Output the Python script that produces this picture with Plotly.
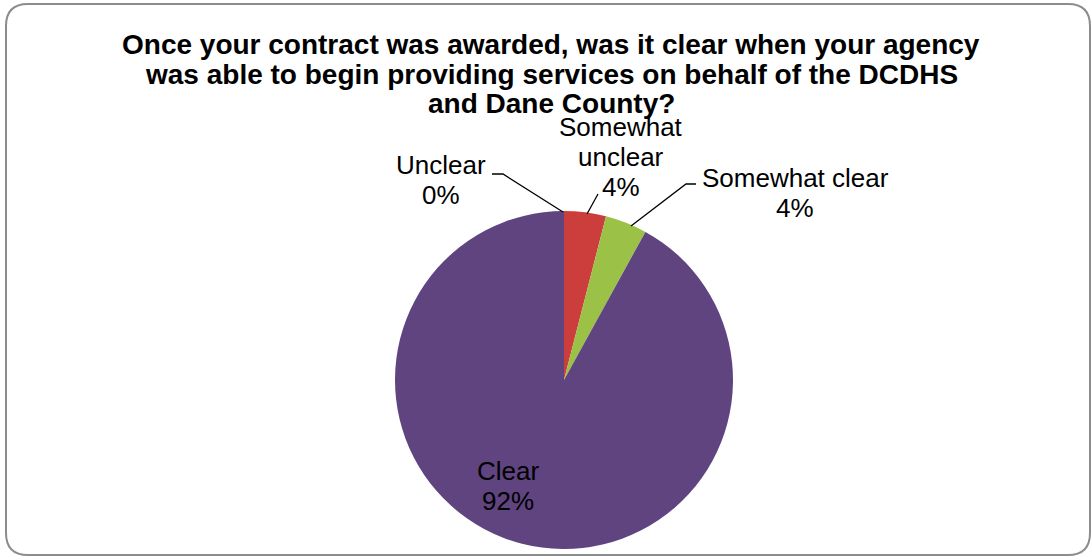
import plotly.graph_objects as go

categories = ["Unclear", "Somewhat unclear", "Somewhat clear", "Clear"]
values = [0, 1, 1, 23]
colors = ["#4F81BD", "#CC3E3B", "#9BC247", "#5F4480"]
title_lines = [
    "Once your contract was awarded, was it clear when your agency",
    "was able to begin providing services on behalf of the DCDHS",
    "and Dane County?",
]

W, H = 1092, 556

def px(x, y):
    return x / W, 1 - y / H

fig = go.Figure()
fig.add_trace(go.Pie(
    labels=categories, values=values, sort=False, direction="clockwise",
    rotation=0, textinfo="none", hoverinfo="label+percent",
    marker=dict(colors=colors, line=dict(width=0)),
    domain=dict(x=[394 / W, 734 / W], y=[1 - 549 / H, 1 - 211 / H]),
    showlegend=False,
))

FAM = "Liberation Sans, Arial, sans-serif"
font = dict(family=FAM, size=26, color="#000000")

total = sum(values)
pct = [f"{round(v / total * 100)}%" for v in values]
label_lines = {
    "Unclear": ["Unclear"],
    "Somewhat unclear": ["Somewhat", "unclear"],
    "Somewhat clear": ["Somewhat clear"],
    "Clear": ["Clear"],
}
label_pos = {  # (center x, first line center y)
    "Unclear": (441, 165),
    "Somewhat unclear": (621, 127),
    "Somewhat clear": (795, 178),
    "Clear": (508, 471),
}
LS = 30
for c, p in zip(categories, pct):
    cx, cy = label_pos[c]
    for i, t in enumerate(label_lines[c] + [p]):
        x, y = px(cx, cy + i * LS)
        fig.add_annotation(x=x, y=y, xref="paper", yref="paper", showarrow=False,
                           text=t, font=font, xanchor="center", yanchor="middle")

def path(points):
    s = ""
    for i, (x, y) in enumerate(points):
        X, Y = px(x, y)
        s += ("M" if i == 0 else "L") + f" {X} {Y} "
    return s

leaders = [
    [(492, 174), (503, 174), (563, 212)],
    [(587, 214), (598, 194)],
    [(696, 184), (686, 184), (631, 226)],
]
for pts in leaders:
    fig.add_shape(type="path", xref="paper", yref="paper", path=path(pts),
                  line=dict(color="#000000", width=1.3))

# title
for i, t in enumerate(title_lines):
    x, y = px(551, 45 + i * 29.5)
    fig.add_annotation(x=x, y=y, xref="paper", yref="paper", showarrow=False,
                       text=f"<b>{t}</b>", xanchor="center", yanchor="middle",
                       font=dict(family=FAM, size=28, color="#000000"))

# rounded frame
x0, y0, x1, y1, r = 6, 4, 1090, 555, 22
fx = lambda v: v / W
fy = lambda v: 1 - v / H
frame = (f"M {fx(x0 + r)} {fy(y0)} L {fx(x1 - r)} {fy(y0)} "
         f"Q {fx(x1)} {fy(y0)} {fx(x1)} {fy(y0 + r)} "
         f"L {fx(x1)} {fy(y1 - r)} Q {fx(x1)} {fy(y1)} {fx(x1 - r)} {fy(y1)} "
         f"L {fx(x0 + r)} {fy(y1)} Q {fx(x0)} {fy(y1)} {fx(x0)} {fy(y1 - r)} "
         f"L {fx(x0)} {fy(y0 + r)} Q {fx(x0)} {fy(y0)} {fx(x0 + r)} {fy(y0)} Z")
fig.add_shape(type="path", xref="paper", yref="paper", path=frame,
              line=dict(color="#8C8C8C", width=2), layer="below")

fig.update_layout(
    width=W, height=H,
    margin=dict(l=0, r=0, t=0, b=0),
    paper_bgcolor="white", plot_bgcolor="white",
)

fig.write_html("out.html", config={"displayModeBar": False},
               post_script="document.body.style.margin='0';document.body.style.overflow='hidden';")
